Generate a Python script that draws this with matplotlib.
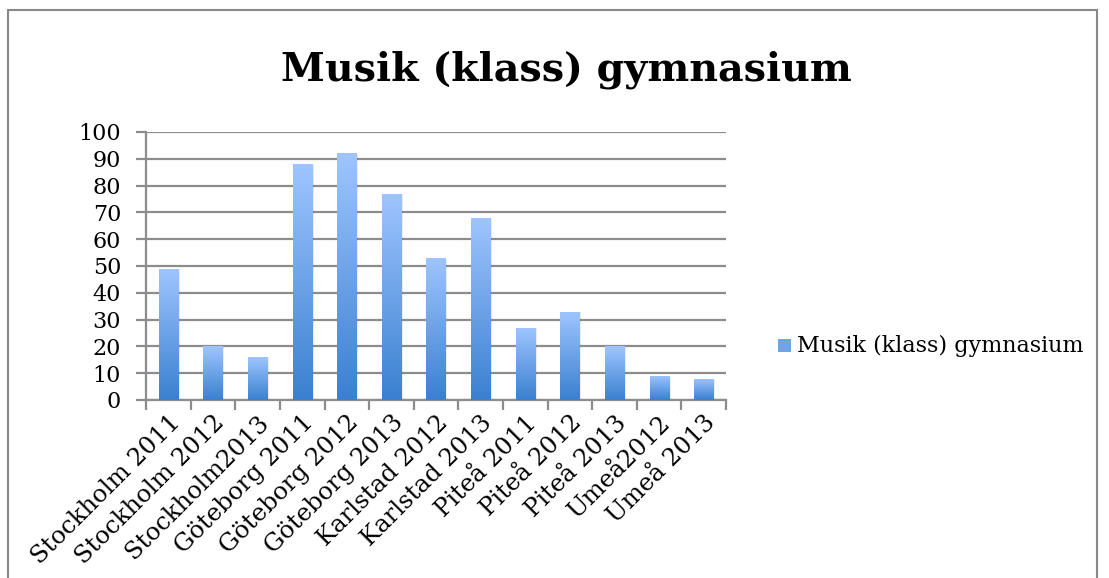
"""Musik (klass) gymnasium - bar chart with gradient bars."""

import numpy as np
import matplotlib
matplotlib.use("Agg")
import matplotlib.pyplot as plt
from matplotlib.colors import LinearSegmentedColormap
from matplotlib.patches import Rectangle

categories = ["Stockholm 2011", "Stockholm 2012", "Stockholm2013",
              "Göteborg 2011", "Göteborg 2012", "Göteborg 2013",
              "Karlstad 2012", "Karlstad 2013", "Piteå 2011",
              "Piteå 2012", "Piteå 2013", "Umeå2012", "Umeå 2013"]
values = [49, 20, 16, 88, 92, 77, 53, 68, 27, 33, 20, 9, 8]
yticks = [0, 10, 20, 30, 40, 50, 60, 70, 80, 90, 100]
series_name = "Musik (klass) gymnasium"

plt.rcParams["font.family"] = ["DejaVu Serif"]

grad = LinearSegmentedColormap.from_list("bluegrad", ["#3a80d0", "#9fc5ff"])
grid_col = "#8c8c8c"

fig = plt.figure(figsize=(11.09, 5.78), dpi=100)
ax = fig.add_axes([0.1317, 0.308, 0.523, 0.4637])

x = np.arange(len(categories))
width = 0.43
bars = ax.bar(x, values, width=width, color="none", zorder=3)
g = np.linspace(0, 1, 256).reshape(-1, 1)
for b in bars:
    x0, y0 = b.get_x(), b.get_y()
    w, h = b.get_width(), b.get_height()
    # soft shadow
    ax.add_patch(Rectangle((x0 + 0.04, y0), w, h - 0.3, color="#000000",
                           alpha=0.08, zorder=2, lw=0))
    im = ax.imshow(g, cmap=grad, extent=[x0, x0 + w, y0, y0 + h],
                   aspect="auto", origin="lower", zorder=3)
    im.set_clip_path(b)

ax.set_xlim(-0.5, len(categories) - 0.5)
ax.set_ylim(0, 100)
ax.set_yticks(yticks)
ax.set_yticklabels([str(v) for v in yticks], fontsize=16)
ax.yaxis.grid(True, color=grid_col, linewidth=1.6, zorder=1)
ax.set_axisbelow(True)

ax.set_xticks(np.arange(len(categories) + 1) - 0.5, minor=False)
ax.set_xticklabels([])
ax.set_xticks(x, minor=True)
ax.set_xticklabels(categories, minor=True, rotation=45, ha="right",
                   rotation_mode="anchor", fontsize=17.5)
ax.tick_params(axis="x", which="minor", length=0, pad=8)
ax.tick_params(axis="x", which="major", length=7, width=1.6, color=grid_col)
ax.tick_params(axis="y", length=7, width=1.6, color=grid_col, pad=11)

for s in ["top", "right"]:
    ax.spines[s].set_visible(False)
for s in ["left", "bottom"]:
    ax.spines[s].set_color(grid_col)
    ax.spines[s].set_linewidth(1.6)

fig.text(0.511, 0.880, series_name, ha="center", va="center",
         fontsize=28.5, fontweight="bold")

# legend
fig.patches.append(Rectangle((778 / 1109, 1 - 352 / 578), 13 / 1109, 13 / 578,
                             transform=fig.transFigure, facecolor="#6ea4e8",
                             edgecolor="none"))
fig.text(797 / 1109, 1 - 346 / 578, series_name, ha="left", va="center",
         fontsize=16)

# chart frame
fig.patches.append(Rectangle((8 / 1109, -0.05), 1089 / 1109, 1.05 - 10 / 578,
                             transform=fig.transFigure, facecolor="none",
                             edgecolor="#888888", linewidth=1.5))

fig.savefig("out.png", dpi=100)
